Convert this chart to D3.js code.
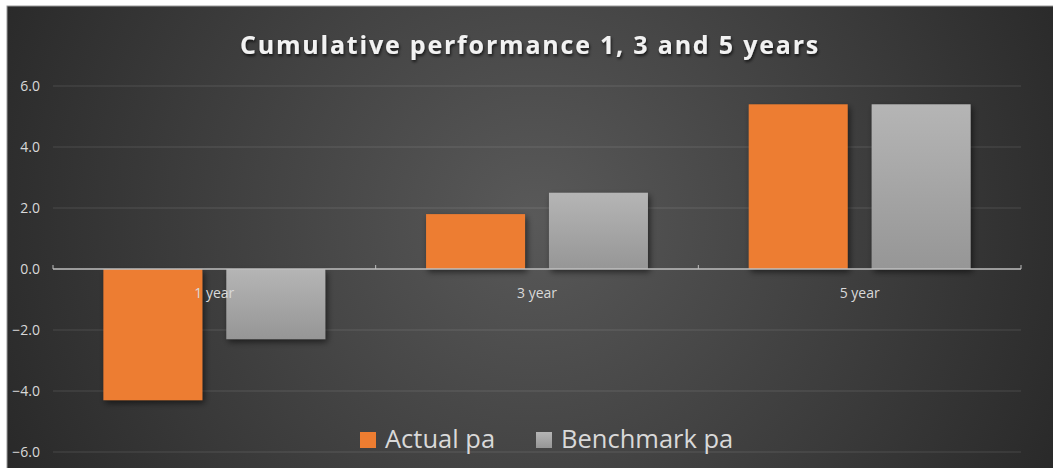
<!DOCTYPE html>
<html>
<head>
<meta charset="utf-8">
<script src="https://cdn.jsdelivr.net/npm/d3@7"></script>
<style>
  html, body { margin: 0; padding: 0; background: #fff; }
  svg { display: block; }
</style>
</head>
<body>
<div id="vis"></div>
<script>
// chart data
const categories = ['1 year', '3 year', '5 year'];
const seriesNames = ['Actual pa', 'Benchmark pa'];
const actualPa = [-4.3, 1.8, 5.4];
const benchmarkPa = [-2.3, 2.5, 5.4];
const yTicks = [-6, -4, -2, 0, 2, 4, 6];

const W = 1053, H = 468;
let margin = { top: 86, left: 53, right: 32, bottom: 16 };

let svg = d3.select('#vis')
  .append('svg')
    .attr('width', W)
    .attr('height', H);

let defs = svg.append('defs');

// background glow, lighter in the middle
let bg = defs.append('radialGradient')
  .attr('id', 'bgGrad')
  .attr('cx', '50%').attr('cy', '45%').attr('r', '60%')
  .attr('gradientTransform', 'translate(0.5,0.45) scale(1,2.2) translate(-0.5,-0.45)');
bg.append('stop').attr('offset', '0%').attr('stop-color', '#595959');
bg.append('stop').attr('offset', '100%').attr('stop-color', '#252525');

let grey = defs.append('linearGradient')
  .attr('id', 'greyGrad')
  .attr('x1', 0).attr('y1', 0).attr('x2', 0).attr('y2', 1);
grey.append('stop').attr('offset', '0%').attr('stop-color', '#b5b5b5');
grey.append('stop').attr('offset', '100%').attr('stop-color', '#969696');

let shadow = defs.append('filter')
  .attr('id', 'shadow')
  .attr('x', '-20%').attr('y', '-20%').attr('width', '140%').attr('height', '140%');
shadow.append('feDropShadow')
  .attr('dx', 2).attr('dy', 3).attr('stdDeviation', 3)
  .attr('flood-color', '#000').attr('flood-opacity', 0.55);

let textShadow = defs.append('filter').attr('id', 'textShadow');
textShadow.append('feDropShadow')
  .attr('dx', 1).attr('dy', 2).attr('stdDeviation', 1.5)
  .attr('flood-color', '#000').attr('flood-opacity', 0.7);

// chart area
svg.append('rect')
  .attr('x', 7).attr('y', 6)
  .attr('width', W).attr('height', H)
  .attr('fill', 'url(#bgGrad)')
  .attr('stroke', '#9a9a9a')
  .attr('stroke-width', 1);

// title
svg.append('text')
  .attr('x', 530)
  .attr('y', 54)
  .attr('text-anchor', 'middle')
  .style('font-family', '"Open Sans", "Noto Sans", sans-serif')
  .style('font-weight', 'bold')
  .style('font-size', '25px')
  .style('letter-spacing', '1.8px')
  .attr('fill', '#f2f2f2')
  .attr('filter', 'url(#textShadow)')
  .text('Cumulative performance 1, 3 and 5 years');

// scales
let yScale = d3.scaleLinear()
  .domain([-6, 6])
  .range([H - margin.bottom, margin.top]);

let xScale = d3.scaleBand()
  .domain(categories)
  .range([margin.left, W - margin.right])
  .padding(0);

let xSub = d3.scaleBand()
  .domain(seriesNames)
  .range([0, xScale.bandwidth()])
  .paddingInner(0.195)
  .paddingOuter(0.41);

let color = d3.scaleOrdinal()
  .domain(seriesNames)
  .range(['#ed7d31', 'url(#greyGrad)']);

// gridlines
svg.append('g')
  .selectAll('line')
  .data(yTicks.filter(d => d !== 0))
  .enter().append('line')
    .attr('x1', margin.left)
    .attr('x2', W - margin.right)
    .attr('y1', d => yScale(d))
    .attr('y2', d => yScale(d))
    .attr('stroke', 'rgba(255,255,255,0.13)')
    .attr('stroke-width', 1);

// y axis labels
let yAxis = svg.append('g')
  .attr('transform', 'translate(40,0)')
  .call(d3.axisLeft(yScale).tickValues(yTicks).tickFormat(d3.format('.1f')).tickSize(0));
yAxis.select('.domain').remove();
yAxis.selectAll('text')
  .attr('x', 0)
  .style('font-family', '"Open Sans", "Noto Sans", sans-serif')
  .style('font-size', '14px')
  .attr('fill', '#d9d9d9');

// bars
let data = categories.map((c, i) => ({
  cat: c,
  values: [
    { key: seriesNames[0], value: actualPa[i] },
    { key: seriesNames[1], value: benchmarkPa[i] }
  ]
}));

svg.append('g')
  .selectAll('g')
  .data(data)
  .enter().append('g')
    .attr('transform', d => 'translate(' + xScale(d.cat) + ',0)')
  .selectAll('rect')
  .data(d => d.values)
  .enter().append('rect')
    .attr('x', d => xSub(d.key))
    .attr('y', d => yScale(Math.max(0, d.value)))
    .attr('width', xSub.bandwidth())
    .attr('height', d => Math.abs(yScale(d.value) - yScale(0)))
    .attr('fill', d => color(d.key))
    .attr('filter', 'url(#shadow)');

// zero axis with upward ticks at category borders
let x0 = yScale(0);
svg.append('line')
  .attr('x1', margin.left).attr('x2', W - margin.right)
  .attr('y1', x0).attr('y2', x0)
  .attr('stroke', '#bfbfbf')
  .attr('stroke-width', 1.5);

let borders = categories.map(c => xScale(c)).concat([W - margin.right]);
svg.append('g')
  .selectAll('line')
  .data(borders)
  .enter().append('line')
    .attr('x1', d => d).attr('x2', d => d)
    .attr('y1', x0 - 4).attr('y2', x0)
    .attr('stroke', '#bfbfbf')
    .attr('stroke-width', 1);

// category labels
svg.append('g')
  .selectAll('text')
  .data(categories)
  .enter().append('text')
    .attr('x', d => xScale(d) + xScale.bandwidth() / 2)
    .attr('y', x0 + 29)
    .attr('text-anchor', 'middle')
    .style('font-family', '"Open Sans", "Noto Sans", sans-serif')
    .style('font-size', '14px')
    .attr('fill', '#d9d9d9')
    .text(d => d);

// legend
let legendX = [360, 536];
let legend = svg.append('g')
  .selectAll('g')
  .data(seriesNames)
  .enter().append('g')
    .attr('transform', (d, i) => 'translate(' + legendX[i] + ',432)');
legend.append('rect')
  .attr('width', 16).attr('height', 16)
  .attr('fill', d => color(d));
legend.append('text')
  .attr('x', 25)
  .attr('y', 16)
  .style('font-family', '"Open Sans", "Noto Sans", sans-serif')
  .style('font-size', '25.5px')
  .attr('fill', '#d9d9d9')
  .text(d => d);
</script>
</body>
</html>
